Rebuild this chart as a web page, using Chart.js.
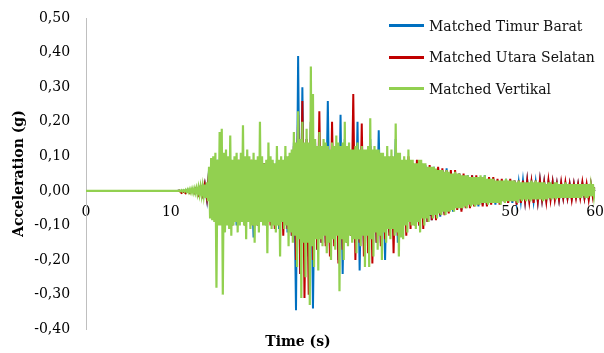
<!DOCTYPE html>
<html lang="id">
<head>
<meta charset="UTF-8">
<title>Matched Accelerogram</title>
<script src="https://cdn.jsdelivr.net/npm/chart.js"></script>
<style>
  html, body { margin: 0; background: #fff; overflow: hidden; }
  #wrap { position: relative; width: 604px; height: 353px; }
  #wrap canvas { display: block; }
  #legend { position: absolute; left: 389px; top: 10px; font-family: 'DejaVu Serif', serif; font-size: 14px; color: #111; }
  #legend .item { display: flex; align-items: center; height: 31.5px; white-space: nowrap; }
  #legend .swatch { width: 35px; height: 3px; margin-right: 5px; }
</style>
</head>
<body>
<div id="wrap">
  <canvas id="chart"></canvas>
  <div id="legend"></div>
</div>
<script>
const seriesNames = ['Matched Timur Barat', 'Matched Utara Selatan', 'Matched Vertikal'];
const seriesColors = ['#0070C0', '#C00000', '#92D050'];
const seriesWidths = [2, 2, 2.2];
// sampling interval of each record (s)
const seriesDt = [0.25, 0.25, 0.125];

const yTicks = [-0.4, -0.3, -0.2, -0.1, 0, 0.1, 0.2, 0.3, 0.4, 0.5];
const xTicks = [0, 10, 20, 30, 40, 50, 60];

// acceleration (g), one row = one second (4 samples)
const timurBarat = [
  0,0,0,0, 0,0,0,0, 0,0,0,0, 0,0,0,0, 0,0,0,0, 0,0,0,0, 0,0,0,0, 0,0,0,0, 0,0,0,0, 0,0,0,0,
  0,0,0,0,
  0.001,-0.002,0.002,-0.002,
  0.004,-0.004,0.005,-0.005,
  0.008,-0.009,0.012,-0.011,
  0.02,-0.025,0.06,-0.07,
  0.08,-0.09,0.09,-0.08,
  0.09,-0.10,0.08,-0.09,
  0.09,-0.09,0.08,-0.10,
  0.08,-0.09,0.10,-0.09,
  0.09,-0.09,0.08,-0.135,
  0.07,-0.10,0.09,-0.09,
  0.08,-0.10,0.09,-0.09,
  0.08,-0.10,0.09,-0.11,
  0.08,-0.10,0.10,-0.12,
  0.10,-0.13,0.14,-0.345,
  0.39,-0.24,0.30,-0.20,
  0.15,-0.19,0.20,-0.34,
  0.14,-0.17,0.15,-0.15,
  0.13,-0.15,0.26,-0.16,
  0.12,-0.15,0.13,-0.20,
  0.22,-0.24,0.15,-0.14,
  0.12,-0.13,0.11,-0.15,
  0.20,-0.23,0.12,-0.16,
  0.11,-0.17,0.15,-0.17,
  0.11,-0.15,0.175,-0.15,
  0.10,-0.20,0.10,-0.12,
  0.10,-0.11,0.15,-0.15,
  0.09,-0.11,0.09,-0.10,
  0.09,-0.09,0.08,-0.09,
  0.07,-0.10,0.08,-0.09,
  0.075,-0.09,0.07,-0.085,
  0.07,-0.08,0.065,-0.075,
  0.06,-0.065,0.065,-0.06,
  0.055,-0.06,0.05,-0.05,
  0.05,-0.055,0.045,-0.045,
  0.045,-0.04,0.045,-0.04,
  0.04,-0.045,0.04,-0.04,
  0.045,-0.04,0.04,-0.035,
  0.035,-0.04,0.03,-0.035,
  0.03,-0.03,0.035,-0.035,
  0.03,-0.035,0.03,-0.03,
  0.025,-0.03,0.03,-0.03,
  0.03,-0.025,0.025,-0.03,
  0.025,-0.03,0.03,-0.025,
  0.025,-0.025,0.025,-0.02,
  0.025,-0.02,0.02,-0.025,
  0.02,-0.02,0.02,-0.02,
  0.02,-0.02,0.02,-0.015,
  0.02,-0.015,0.02,-0.02,
  0.015,-0.02,0.02,-0.015,
  0.01
];

const utaraSelatan = [
  0,0,0,0, 0,0,0,0, 0,0,0,0, 0,0,0,0, 0,0,0,0, 0,0,0,0, 0,0,0,0, 0,0,0,0, 0,0,0,0, 0,0,0,0,
  0,0,0,0,
  0.001,-0.006,-0.002,-0.007,
  0.002,-0.006,0.004,-0.005,
  0.008,-0.01,0.012,-0.012,
  0.02,-0.022,0.055,-0.07,
  0.09,-0.09,0.08,-0.09,
  0.09,-0.09,0.09,-0.08,
  0.09,-0.10,0.08,-0.09,
  0.09,-0.09,0.09,-0.10,
  0.08,-0.09,0.09,-0.10,
  0.08,-0.10,0.08,-0.09,
  0.08,-0.09,0.09,-0.10,
  0.08,-0.11,0.08,-0.10,
  0.08,-0.13,0.09,-0.11,
  0.10,-0.13,0.13,-0.20,
  0.22,-0.24,0.26,-0.31,
  0.15,-0.30,0.20,-0.20,
  0.13,-0.17,0.23,-0.15,
  0.12,-0.16,0.12,-0.19,
  0.20,-0.16,0.13,-0.21,
  0.12,-0.17,0.13,-0.15,
  0.12,-0.13,0.28,-0.20,
  0.12,-0.15,0.195,-0.19,
  0.11,-0.18,0.13,-0.21,
  0.11,-0.15,0.11,-0.16,
  0.10,-0.14,0.10,-0.13,
  0.10,-0.18,0.10,-0.13,
  0.09,-0.12,0.09,-0.13,
  0.10,-0.11,0.08,-0.10,
  0.09,-0.10,0.08,-0.11,
  0.07,-0.09,0.075,-0.085,
  0.065,-0.085,0.07,-0.07,
  0.065,-0.07,0.06,-0.065,
  0.06,-0.055,0.06,-0.055,
  0.05,-0.06,0.05,-0.05,
  0.04,-0.05,0.045,-0.045,
  0.045,-0.04,0.04,-0.045,
  0.04,-0.045,0.04,-0.04,
  0.04,-0.035,0.035,-0.04,
  0.035,-0.03,0.03,-0.035,
  0.035,-0.03,0.03,-0.04,
  0.03,-0.035,0.03,-0.03,
  0.03,-0.03,0.025,-0.035,
  0.03,-0.03,0.03,-0.025,
  0.025,-0.03,0.03,-0.025,
  0.025,-0.025,0.02,-0.025,
  0.025,-0.02,0.025,-0.02,
  0.02,-0.025,0.02,-0.02,
  0.02,-0.02,0.025,-0.02,
  0.02,-0.025,0.02,-0.02,
  0.01
];

// one row = one second (8 samples)
const vertikal = [
  0,0,0,0,0,0,0,0, 0,0,0,0,0,0,0,0, 0,0,0,0,0,0,0,0, 0,0,0,0,0,0,0,0, 0,0,0,0,0,0,0,0,
  0,0,0,0,0,0,0,0, 0,0,0,0,0,0,0,0, 0,0,0,0,0,0,0,0, 0,0,0,0,0,0,0,0, 0,0,0,0,0,0,0,0,
  0,0,0,0,0,0,0,0,
  0.001,-0.001,0.002,-0.002,0.002,-0.002,0.003,-0.003,
  0.004,-0.004,0.005,-0.005,0.006,-0.006,0.007,-0.006,
  0.008,-0.009,0.01,-0.01,0.012,-0.012,0.014,-0.013,
  0.018,-0.02,0.025,-0.03,0.07,-0.08,0.095,-0.085,
  0.10,-0.09,0.11,-0.28,0.09,-0.10,0.17,-0.10,
  0.18,-0.30,0.11,-0.12,0.12,-0.10,0.10,-0.11,
  0.16,-0.13,0.09,-0.10,0.10,-0.09,0.11,-0.12,
  0.09,-0.10,0.11,-0.09,0.19,-0.10,0.10,-0.14,
  0.12,-0.09,0.10,-0.11,0.09,-0.10,0.11,-0.15,
  0.09,-0.10,0.10,-0.12,0.20,-0.09,0.10,-0.10,
  0.08,-0.10,0.09,-0.18,0.14,-0.09,0.10,-0.11,
  0.09,-0.10,0.08,-0.12,0.13,-0.10,0.09,-0.19,
  0.10,-0.09,0.09,-0.11,0.13,-0.10,0.10,-0.16,
  0.11,-0.12,0.12,-0.15,0.17,-0.13,0.14,-0.22,
  0.23,-0.14,0.15,-0.31,0.20,-0.15,0.14,-0.25,
  0.18,-0.15,0.14,-0.33,0.36,-0.16,0.28,-0.22,
  0.15,-0.14,0.13,-0.23,0.17,-0.14,0.13,-0.16,
  0.15,-0.13,0.14,-0.18,0.13,-0.15,0.12,-0.20,
  0.14,-0.14,0.13,-0.17,0.16,-0.13,0.14,-0.29,
  0.13,-0.14,0.14,-0.20,0.20,-0.15,0.13,-0.16,
  0.14,-0.13,0.12,-0.15,0.12,-0.14,0.13,-0.18,
  0.14,-0.14,0.12,-0.16,0.13,-0.13,0.12,-0.22,
  0.12,-0.13,0.13,-0.22,0.21,-0.14,0.12,-0.19,
  0.13,-0.12,0.12,-0.17,0.12,-0.13,0.11,-0.20,
  0.11,-0.12,0.10,-0.15,0.13,-0.11,0.10,-0.14,
  0.12,-0.11,0.10,-0.13,0.195,-0.12,0.11,-0.19,
  0.11,-0.135,0.09,-0.14,0.10,-0.10,0.09,-0.12,
  0.12,-0.09,0.09,-0.10,0.09,-0.10,0.08,-0.11,
  0.08,-0.09,0.09,-0.12,0.09,-0.08,0.08,-0.10,
  0.08,-0.08,0.07,-0.09,0.07,-0.07,0.07,-0.08,
  0.07,-0.07,0.065,-0.08,0.06,-0.065,0.06,-0.07,
  0.06,-0.06,0.055,-0.07,0.06,-0.06,0.055,-0.06,
  0.05,-0.055,0.05,-0.06,0.055,-0.05,0.05,-0.05,
  0.05,-0.05,0.045,-0.05,0.045,-0.045,0.045,-0.05,
  0.045,-0.04,0.04,-0.045,0.04,-0.04,0.04,-0.045,
  0.04,-0.04,0.04,-0.04,0.045,-0.035,0.04,-0.035,
  0.045,-0.035,0.035,-0.04,0.035,-0.035,0.035,-0.035,
  0.035,-0.035,0.03,-0.035,0.03,-0.035,0.03,-0.04,
  0.03,-0.03,0.03,-0.035,0.035,-0.03,0.03,-0.03,
  0.03,-0.03,0.03,-0.03,0.03,-0.03,0.025,-0.035,
  0.03,-0.025,0.025,-0.03,0.025,-0.025,0.025,-0.03,
  0.025,-0.025,0.025,-0.03,0.03,-0.025,0.025,-0.025,
  0.03,-0.025,0.025,-0.025,0.025,-0.025,0.025,-0.03,
  0.025,-0.025,0.02,-0.025,0.025,-0.02,0.025,-0.025,
  0.02,-0.02,0.025,-0.025,0.025,-0.02,0.02,-0.02,
  0.02,-0.02,0.02,-0.02,0.025,-0.02,0.02,-0.02,
  0.02,-0.02,0.02,-0.02,0.02,-0.02,0.02,-0.02,
  0.02,-0.02,0.02,-0.02,0.02,-0.015,0.02,-0.02,
  0.02,-0.02,0.02,-0.015,0.015,-0.015,0.02,-0.015,
  0.01
];

const seriesValues = [timurBarat, utaraSelatan, vertikal];

function toPoints(values, step) {
  return values.map((v, i) => ({ x: i * step, y: v }));
}

const serif = "'DejaVu Serif', 'Liberation Serif', serif";

const datasets = seriesValues.map((vals, i) => ({
  label: seriesNames[i],
  data: toPoints(vals, seriesDt[i]),
  borderColor: seriesColors[i],
  borderWidth: seriesWidths[i],
  pointRadius: 0,
  tension: 0,
  order: 2 - i
}));

new Chart(document.getElementById('chart'), {
  type: 'line',
  data: { datasets: datasets },
  options: {
    responsive: true,
    maintainAspectRatio: false,
    animation: false,
    layout: { padding: { top: 18, right: 8, left: 0, bottom: 0 } },
    plugins: {
      legend: { display: false },
      tooltip: { enabled: false },
      title: {
        display: true,
        position: 'bottom',
        text: 'Time (s)',
        color: '#000',
        font: { family: serif, size: 14, weight: 'bold' },
        padding: { top: 5, bottom: 2 }
      }
    },
    scales: {
      x: {
        type: 'linear',
        position: { y: 0 },
        min: 0,
        max: 60,
        afterBuildTicks: axis => { axis.ticks = xTicks.map(v => ({ value: v })); },
        grid: { display: false, drawTicks: false },
        border: { display: true, color: '#bfbfbf', width: 1 },
        ticks: {
          color: '#000',
          font: { family: serif, size: 14, lineHeight: 1 },
          padding: 0,
          maxRotation: 0,
          // empty first line keeps the numbers clear of the zero line
          callback: v => ['', String(v)]
        }
      },
      y: {
        min: -0.4,
        max: 0.5,
        afterBuildTicks: axis => { axis.ticks = yTicks.map(v => ({ value: v })); },
        afterFit: axis => { axis.width = 86; },
        grid: { display: false, drawTicks: false },
        border: { display: true, color: '#bfbfbf', width: 1 },
        ticks: {
          color: '#000',
          font: { family: serif, size: 14 },
          padding: 7,
          callback: v => v.toFixed(2).replace('.', ',') + '  '
        },
        title: {
          display: true,
          text: 'Acceleration (g)',
          color: '#000',
          font: { family: serif, size: 14, weight: 'bold' },
          padding: { top: 11, bottom: 0 }
        }
      }
    }
  }
});

// legend drawn as HTML in the top-right corner of the plot
const legend = document.getElementById('legend');
seriesNames.forEach((name, i) => {
  const item = document.createElement('div');
  item.className = 'item';
  item.innerHTML = '<span class="swatch" style="background:' + seriesColors[i] + '"></span>' + name;
  legend.appendChild(item);
});
</script>
</body>
</html>
